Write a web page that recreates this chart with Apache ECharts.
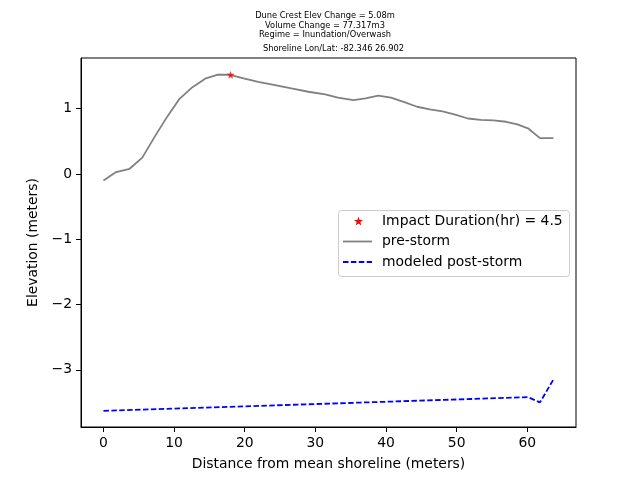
<!DOCTYPE html>
<html>
<head>
<meta charset="utf-8">
<script src="https://cdn.jsdelivr.net/npm/echarts@6/dist/echarts.min.js"></script>
<style>
  html, body { margin: 0; padding: 0; background: #fff; }
  #chart-container { width: 640px; height: 480px; }
</style>
</head>
<body>
<div id="chart-container"></div>
<script>
// pre-storm profile
var preX = [0, 1.8, 3.7, 5.5, 7.3, 9.1, 10.8, 12.6, 14.4, 16.1, 17.9, 19.7, 21.9, 24.3,
  26.6, 29.0, 31.4, 33.2, 35.4, 37.1, 38.9, 40.7, 42.6, 44.4, 46.2, 48.0, 49.8, 51.6,
  53.4, 55.2, 57.0, 58.6, 60.1, 61.8, 63.7];
var preY = [-0.10, 0.03, 0.08, 0.25, 0.58, 0.89, 1.155, 1.33, 1.46, 1.52, 1.52, 1.47, 1.41, 1.36,
  1.31, 1.26, 1.22, 1.17, 1.13, 1.16, 1.20, 1.17, 1.10, 1.03, 0.99, 0.96, 0.91, 0.85,
  0.83, 0.82, 0.80, 0.76, 0.70, 0.55, 0.55];

// modeled post-storm profile
var postX = [0, 60.1, 61.8, 63.7];
var postY = [-3.63, -3.42, -3.50, -3.15];

// dune crest marker
var crestX = [18.0];
var crestY = [1.52];

var xTicks = [0, 10, 20, 30, 40, 50, 60];
var yTicks = [-3, -2, -1, 0, 1];

var titleLines = [
  "Dune Crest Elev Change = 5.08m",
  "Volume Change = 77.317m3",
  "Regime = Inundation/Overwash"
];
var subTitle = "Shoreline Lon/Lat: -82.346 26.902";
var legendNames = ["Impact Duration(hr) = 4.5", "pre-storm", "modeled post-storm"];

function zip(xs, ys) {
  return xs.map(function (x, i) { return [x, ys[i]]; });
}

// 5-point star outline around (cx, cy)
function starPoints(cx, cy, r) {
  var pts = [];
  for (var k = 0; k < 10; k++) {
    var rr = k % 2 === 0 ? r : r * 0.4;
    var a = -Math.PI / 2 + k * Math.PI / 5;
    pts.push([cx + rr * Math.cos(a), cy + rr * Math.sin(a)]);
  }
  return pts;
}

var dom = document.getElementById("chart-container");
var myChart = echarts.init(dom, null, { renderer: "canvas" });

var font = "DejaVu Sans";
var lw = 1.8;
var starPath = "path://M50,0 L61,35 L98,35 L68,57 L79,91 L50,70 L21,91 L32,57 L2,35 L39,35 Z";

// legend is drawn by hand so the handles look like matplotlib's
var lgLeft = 338, lgTop = 210, lgW = 231, lgH = 66;
var rowY = [221, 241.5, 262];
var legendGraphics = [
  {
    type: "rect",
    shape: { x: lgLeft + 0.5, y: lgTop + 0.5, width: lgW, height: lgH, r: 3 },
    style: { fill: "rgba(255,255,255,0.8)", stroke: "#cccccc", lineWidth: 1 },
    z: 20
  },
  {
    type: "polygon",
    shape: { points: starPoints(358.5, rowY[0] + 0.5, 4.8) },
    style: { fill: "red" },
    z: 21
  },
  {
    type: "line",
    shape: { x1: 343, y1: rowY[1], x2: 372, y2: rowY[1] },
    style: { stroke: "gray", lineWidth: lw },
    z: 21
  },
  {
    type: "line",
    shape: { x1: 343, y1: rowY[2], x2: 372, y2: rowY[2] },
    style: { stroke: "blue", lineWidth: lw, lineDash: [5.5, 2.4] },
    z: 21
  }
].concat(legendNames.map(function (n, i) {
  return {
    type: "text",
    x: 382, y: rowY[i],
    style: { text: n, fill: "#000", font: "13.9px DejaVu Sans", verticalAlign: "middle" },
    z: 21
  };
}));

var option = {
  animation: false,
  textStyle: { fontFamily: font },
  title: [
    {
      text: titleLines.join("\n"),
      left: 320, top: 6, textAlign: "center",
      textStyle: { fontFamily: font, fontSize: 8.3, fontWeight: "normal", color: "#000", lineHeight: 9.7 }
    },
    {
      text: subTitle,
      left: 328.5, top: 40, textAlign: "center",
      textStyle: { fontFamily: font, fontSize: 8.3, fontWeight: "normal", color: "#000" }
    }
  ],
  grid: { left: 81, right: 64, top: 58, bottom: 53, containLabel: false },
  xAxis: {
    type: "value",
    min: -3.18, max: 66.9,
    name: "Distance from mean shoreline (meters)",
    nameLocation: "middle", nameGap: 30,
    nameTextStyle: { fontFamily: font, fontSize: 13.9, color: "#000" },
    axisLine: { show: true, onZero: false, lineStyle: { color: "#000", width: 1 } },
    axisTick: { show: true, inside: false, length: 5, customValues: xTicks, lineStyle: { color: "#000" } },
    axisLabel: { customValues: xTicks, margin: 9, fontFamily: font, fontSize: 13.9, color: "#000" },
    splitLine: { show: false }
  },
  yAxis: {
    type: "value",
    min: -3.877, max: 1.777,
    name: "Elevation (meters)",
    nameLocation: "middle", nameGap: 37,
    nameTextStyle: { fontFamily: font, fontSize: 13.9, color: "#000" },
    axisLine: { show: true, onZero: false, lineStyle: { color: "#000", width: 1 } },
    axisTick: { show: true, inside: false, length: 5, customValues: yTicks, lineStyle: { color: "#000" } },
    axisLabel: {
      customValues: yTicks, margin: 9, fontFamily: font, fontSize: 13.9, color: "#000",
      formatter: function (v) { return v < 0 ? "\u2212" + Math.abs(v) : String(v); }
    },
    splitLine: { show: false }
  },
  series: [
    {
      name: legendNames[1],
      type: "line",
      data: zip(preX, preY),
      symbol: "none",
      lineStyle: { color: "gray", width: lw },
      z: 2
    },
    {
      name: legendNames[2],
      type: "line",
      data: zip(postX, postY),
      symbol: "none",
      lineStyle: { color: "blue", width: lw, type: [5.5, 2.4] },
      z: 3
    },
    {
      name: legendNames[0],
      type: "scatter",
      data: zip(crestX, crestY),
      symbol: starPath,
      symbolSize: 8,
      itemStyle: { color: "red" },
      z: 4
    }
  ],
  graphic: [{
    type: "rect",
    shape: { x: 81, y: 58, width: 495, height: 369 },
    style: { fill: "none", stroke: "#000", lineWidth: 1 },
    silent: true, z: 10
  }].concat(legendGraphics)
};

myChart.setOption(option);
window.addEventListener("resize", myChart.resize);
</script>
</body>
</html>
